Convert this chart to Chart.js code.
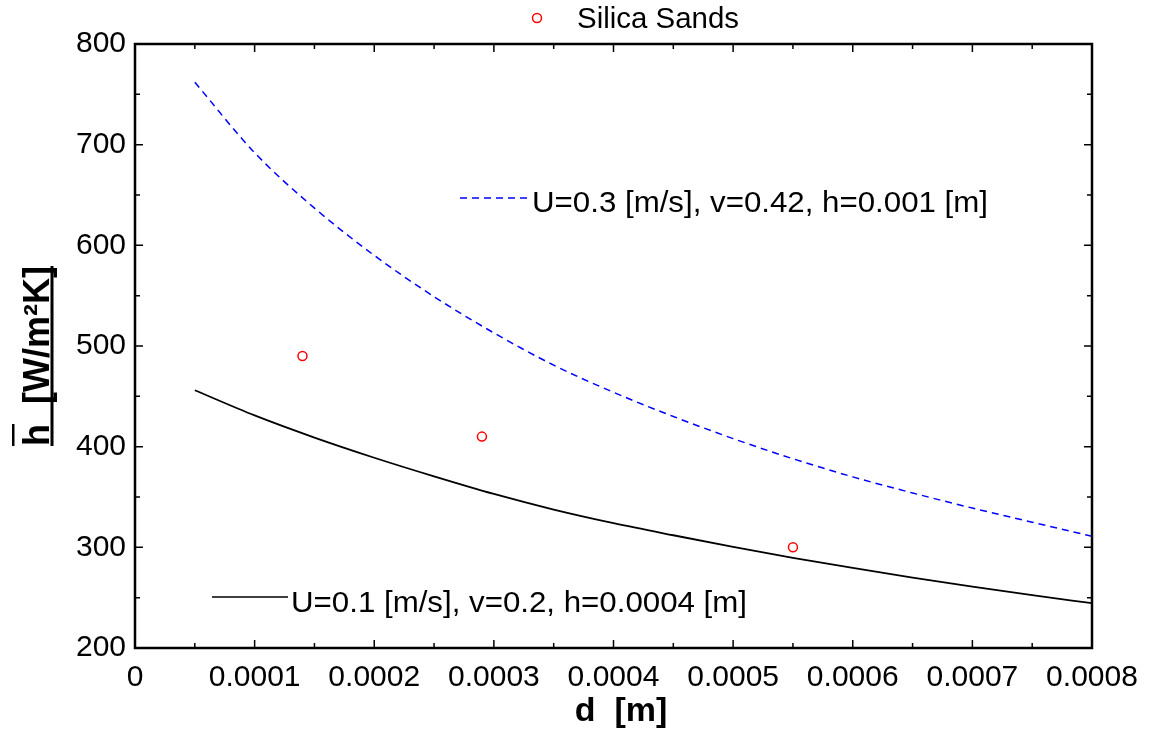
<!DOCTYPE html>
<html>
<head>
<meta charset="utf-8">
<script src="https://cdn.jsdelivr.net/npm/chart.js@4.4.1/dist/chart.umd.min.js"></script>
<style>
  html, body { margin: 0; padding: 0; background: #fff; }
  canvas { display: block; }
</style>
</head>
<body>
<canvas id="chart" width="1152" height="733"></canvas>
<script>
// grain diameter d [m] where both model curves are sampled
const xValues = [0.00005, 0.0001, 0.00015, 0.0002, 0.00025, 0.0003, 0.00035, 0.0004,
                 0.00045, 0.0005, 0.00055, 0.0006, 0.00065, 0.0007, 0.00075, 0.0008];
// U=0.3 [m/s], v=0.42, h=0.001 [m]  (blue dashed)
const upperCurve = [762, 692, 637, 590, 549, 513, 481, 454, 430, 408, 388, 370, 354, 339, 325, 311];
// U=0.1 [m/s], v=0.2, h=0.0004 [m]  (black solid)
const lowerCurve = [456, 431, 409, 389, 370.5, 353, 337.5, 324, 312, 300.5, 289.5, 279.5, 270, 261, 252.5, 244.5];
// silica sands measurements
const sandD = [0.00014, 0.00029, 0.00055];
const sandH = [490, 410, 300];

const xTickLabels = ['0', '0.0001', '0.0002', '0.0003', '0.0004', '0.0005', '0.0006', '0.0007', '0.0008'];
const upperLabel = 'U=0.3 [m/s], v=0.42, h=0.001 [m]';
const lowerLabel = 'U=0.1 [m/s], v=0.2, h=0.0004 [m]';
const sandLabel = 'Silica Sands';

const FONT = "'Liberation Sans', Arial, sans-serif";

const toPoints = (xs, ys) => xs.map((x, i) => ({ x, y: ys[i] }));

// text squeezed/stretched horizontally to a given width (reference font is wider)
function wideText(ctx, text, x, y, width) {
    const m = ctx.measureText(text).width;
    ctx.save();
    ctx.translate(x, y);
    ctx.scale(width / m, 1);
    ctx.fillText(text, 0, 0);
    ctx.restore();
}

// box, inner ticks, in-plot legends and axis titles
const decorations = {
    id: 'decorations',
    afterDatasetsDraw(chart) {
        const { ctx, chartArea: a, scales } = chart;
        const xs = scales.x, ys = scales.y;
        ctx.save();
        ctx.strokeStyle = '#000';

        // inner ticks, major + minor, on all four sides
        ctx.lineWidth = 1.5;
        for (let i = 0; i <= 16; i++) {
            const px = xs.getPixelForValue(i * 0.00005);
            const len = i % 2 === 0 ? 8 : 5;
            ctx.beginPath();
            ctx.moveTo(px, a.bottom); ctx.lineTo(px, a.bottom - len);
            ctx.moveTo(px, a.top); ctx.lineTo(px, a.top + len);
            ctx.stroke();
        }
        for (let v = 200; v <= 800; v += 50) {
            const py = ys.getPixelForValue(v);
            const len = v % 100 === 0 ? 8 : 5;
            ctx.beginPath();
            ctx.moveTo(a.left, py); ctx.lineTo(a.left + len, py);
            ctx.moveTo(a.right, py); ctx.lineTo(a.right - len, py);
            ctx.stroke();
        }

        // frame
        ctx.lineWidth = 2.5;
        ctx.strokeRect(a.left, a.top, a.right - a.left, a.bottom - a.top);

        // legends
        ctx.font = '29px ' + FONT;
        ctx.fillStyle = '#000';
        ctx.textBaseline = 'alphabetic';
        ctx.textAlign = 'left';

        ctx.lineWidth = 1.5;
        ctx.strokeStyle = '#0000ff';
        ctx.setLineDash([7, 5]);
        ctx.beginPath(); ctx.moveTo(460, 198); ctx.lineTo(530, 198); ctx.stroke();
        ctx.setLineDash([]);
        wideText(ctx, upperLabel, 532, 212, 456);

        ctx.strokeStyle = '#000';
        ctx.beginPath(); ctx.moveTo(212, 597); ctx.lineTo(288, 597); ctx.stroke();
        wideText(ctx, lowerLabel, 291, 612, 456);

        ctx.strokeStyle = '#ff0000';
        ctx.beginPath(); ctx.arc(537, 18, 4.5, 0, Math.PI * 2); ctx.stroke();
        wideText(ctx, sandLabel, 577, 28, 162);

        // x title
        ctx.font = 'bold 34px ' + FONT;
        ctx.textAlign = 'center';
        ctx.fillText('d  [m]', 621, 721);

        // y title, rotated, underlined, overline on h
        ctx.font = 'bold 36px ' + FONT;
        ctx.translate(49, 356);
        ctx.rotate(-Math.PI / 2);
        const yTitle = 'h  [W/m\u00B2K]';
        const w = ctx.measureText(yTitle).width;
        const hw = ctx.measureText('h').width;
        ctx.fillText(yTitle, 0, 0);
        ctx.fillRect(-w / 2, 1.5, w, 3);
        ctx.fillRect(-w / 2, -37, hw, 2.5);
        ctx.restore();
    }
};

new Chart(document.getElementById('chart'), {
    type: 'scatter',
    data: {
        datasets: [
            {
                label: upperLabel,
                data: toPoints(xValues, upperCurve),
                showLine: true,
                borderColor: '#0000ff',
                borderWidth: 1.5,
                borderDash: [7, 5],
                pointRadius: 0,
                cubicInterpolationMode: 'monotone'
            },
            {
                label: lowerLabel,
                data: toPoints(xValues, lowerCurve),
                showLine: true,
                borderColor: '#000000',
                borderWidth: 1.8,
                pointRadius: 0,
                cubicInterpolationMode: 'monotone'
            },
            {
                label: sandLabel,
                data: toPoints(sandD, sandH),
                showLine: false,
                pointStyle: 'circle',
                pointRadius: 4.5,
                pointBorderWidth: 1.5,
                pointBorderColor: '#ff0000',
                pointBackgroundColor: 'rgba(0,0,0,0)'
            }
        ]
    },
    options: {
        responsive: false,
        animation: false,
        devicePixelRatio: 1,
        layout: { padding: { left: 0, right: 60, top: 44, bottom: 0 } },
        plugins: { legend: { display: false }, tooltip: { enabled: false } },
        scales: {
            x: {
                type: 'linear',
                min: 0,
                max: 0.0008,
                grid: { display: false, drawTicks: false },
                border: { display: false },
                ticks: {
                    stepSize: 0.0001,
                    padding: 12,
                    color: '#000',
                    maxRotation: 0,
                    autoSkip: false,
                    font: { family: FONT, size: 30 },
                    callback: (value, index) => xTickLabels[index]
                },
                afterFit: scale => { scale.height = 85; }
            },
            y: {
                type: 'linear',
                min: 200,
                max: 800,
                grid: { display: false, drawTicks: false },
                border: { display: false },
                ticks: {
                    stepSize: 100,
                    padding: 9,
                    color: '#000',
                    font: { family: FONT, size: 30 }
                },
                afterFit: scale => { scale.width = 135; }
            }
        }
    },
    plugins: [decorations]
});
</script>
</body>
</html>
